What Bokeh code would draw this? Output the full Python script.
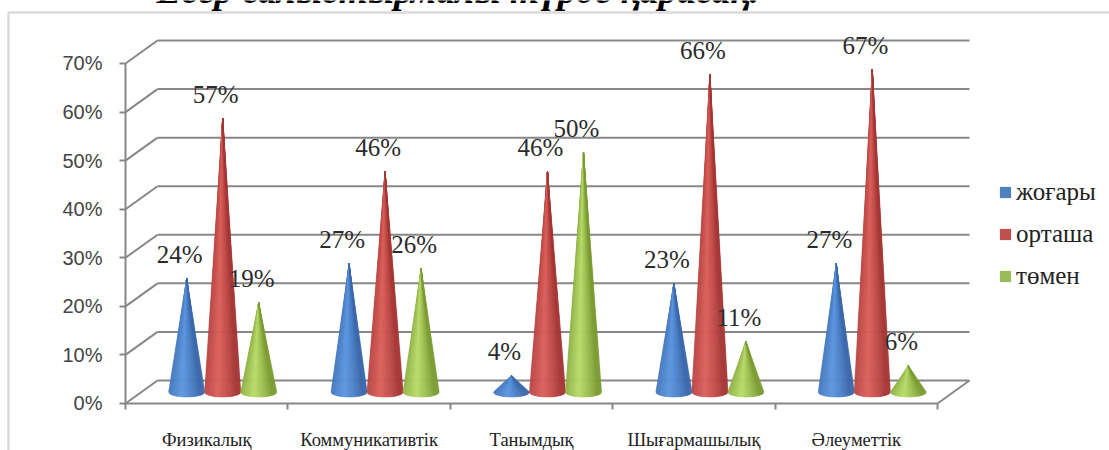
from bokeh.plotting import figure
from bokeh.embed import file_html
from bokeh.resources import INLINE
from bokeh.models import (ColumnDataSource, LabelSet, Label, BoxAnnotation, Legend, LegendItem,
                          LinearAxis, FixedTicker, Range1d)
import math

categories = ["Физикалық", "Коммуникативтік", "Танымдық", "Шығармашылық", "Әлеуметтік"]
series_names = ["жоғары", "орташа", "төмен"]
high = [24, 27, 4, 23, 27]
mid = [57, 46, 46, 66, 67]
low = [19, 26, 50, 11, 6]
y_ticks = [0, 10, 20, 30, 40, 50, 60, 70]
title_text = "Есер салыстырмалы түрде қарасақ."

GREY = "#878787"
PALETTE = [("#3b68ab", "#5d97e0", "#4f81bd"), ("#a63836", "#dc625e", "#c0504d"), ("#7c9c33", "#b9dc6c", "#9bbb59")]
DX, DY = 0.197, 4.735            # depth of the 3D box in data units
OFFS = [-0.2217, 0.0, 0.2217]    # cone offset inside a category
HALF_W, HALF_H = 0.111, 1.03     # cone base ellipse
TIP_DROP = 0.6                   # the rendered tip fades just under its value
N = 40

p = figure(width=1109, height=450, output_backend="svg", toolbar_location=None,
           x_range=Range1d(-0.7697, 6.059), y_range=Range1d(-9.677, 82.97),
           x_axis_type=None, y_axis_type=None,
           min_border_left=0, min_border_right=0, min_border_top=0, min_border_bottom=0,
           outline_line_color=None, background_fill_color="white", border_fill_color="white")
p.styles = {"position": "absolute", "left": "0px", "top": "0px"}
p.grid.visible = False

# outer chart frame
p.add_layout(BoxAnnotation(left=8, right=1130, top=12, bottom=480,
                           left_units="canvas", right_units="canvas", top_units="canvas", bottom_units="canvas",
                           fill_alpha=0, line_color=GREY, line_width=2.5, level="guide", editable=False))
# clipped heading
p.add_layout(Label(x=156, y=-10, x_units="canvas", y_units="canvas", text=title_text,
                   text_font="Liberation Serif", text_font_style="bold italic", text_font_size="37.5px",
                   text_color="black", text_align="left", text_baseline="alphabetic"))

# back wall, side wall and floor lines
xr = 5.0 + DX
p.segment(x0=[DX] * len(y_ticks), y0=[t + DY for t in y_ticks], x1=[xr] * len(y_ticks), y1=[t + DY for t in y_ticks],
          line_color=GREY, line_width=2)
p.segment(x0=[0] * len(y_ticks), y0=y_ticks, x1=[DX] * len(y_ticks), y1=[t + DY for t in y_ticks],
          line_color=GREY, line_width=2)
p.segment(x0=[5.0], y0=[0], x1=[xr], y1=[DY], line_color=GREY, line_width=2)
p.segment(x0=[0], y0=[0], x1=[5.0], y1=[0], line_color=GREY, line_width=2)

# cones
renderers = []
for s, (values, off, (dark, light, flat)) in enumerate(zip((high, mid, low), OFFS, PALETTE)):
    def mix(t):
        # t in [-1, 1] across the cone: highlight left of centre
        k = max(0.0, 1 - abs(t + 0.25) / 1.0) ** 0.8
        a = [int(dark[i:i + 2], 16) for i in (1, 3, 5)]
        b = [int(light[i:i + 2], 16) for i in (1, 3, 5)]
        return "#%02x%02x%02x" % tuple(int(u + (w - u) * k) for u, w in zip(a, b))
    xs, ys, cols = [], [], []
    for c, v in enumerate(values):
        cx = c + 0.5 + DX / 2 + off
        cy = DY / 2
        for i in range(N):
            t0 = -1 + 2 * i / N
            t1 = -1 + 2 * (i + 1) / N
            xs.append([cx, cx + HALF_W * t0, cx + HALF_W * t1])
            ys.append([cy + v - TIP_DROP, cy - HALF_H * math.sqrt(max(0, 1 - t0 ** 2)), cy - HALF_H * math.sqrt(max(0, 1 - t1 ** 2))])
            cols.append(mix((t0 + t1) / 2))
    p.patches(xs, ys, fill_color=cols, line_color=cols, line_width=0.6)
    # off-range quad: only supplies the legend swatch
    renderers.append(p.quad(left=[100], right=[101], top=[1000], bottom=[999], fill_color=flat, line_color=None))
    src = ColumnDataSource(dict(
        x=[c + 0.5 + DX / 2 + off for c in range(5)],
        y=[DY / 2 + v for v in values],
        t=[f"{v}%" for v in values]))
    p.add_layout(LabelSet(x="x", y="y", text="t", source=src, x_offset=-7, y_offset=21,
                          text_align="center", text_baseline="middle",
                          text_font="Liberation Serif", text_font_size="25px", text_color="#2b2b2b"))

# axes drawn inside the full-canvas frame
ya = LinearAxis(ticker=FixedTicker(ticks=y_ticks), major_label_overrides={t: f"{t}%" for t in y_ticks},
                fixed_location=0, bounds=(0, 70),
                axis_line_color=GREY, axis_line_width=2, major_tick_line_color=GREY, major_tick_line_width=2,
                major_tick_in=0, major_tick_out=6, minor_tick_in=0, minor_tick_out=0,
                major_label_standoff=17, major_label_text_font="Liberation Sans",
                major_label_text_font_size="20px", major_label_text_color="#444444")
p.add_layout(ya, "left")
centers = [i + 0.5 for i in range(5)]
xa = LinearAxis(ticker=FixedTicker(ticks=centers, minor_ticks=list(range(6))),
                major_label_overrides=dict(zip(centers, categories)),
                fixed_location=0,
                axis_line_color=None, major_tick_in=0, major_tick_out=0,
                minor_tick_line_color=GREY, minor_tick_line_width=2, minor_tick_in=0, minor_tick_out=6,
                major_label_standoff=21, major_label_text_font="Liberation Serif",
                major_label_text_font_size="18.5px", major_label_text_color="#222222")
p.add_layout(xa, "below")

# legend
leg = Legend(items=[LegendItem(label=n, renderers=[r]) for n, r in zip(series_names, renderers)],
             location=(998, 160), orientation="vertical", border_line_color=None, background_fill_alpha=0,
             glyph_width=14, glyph_height=14, label_standoff=4, spacing=14, margin=0, padding=0,
             label_text_font="Liberation Serif", label_text_font_size="25px", label_text_color="#222222")
p.add_layout(leg)

open("out.html", "w").write(file_html(p, INLINE))
